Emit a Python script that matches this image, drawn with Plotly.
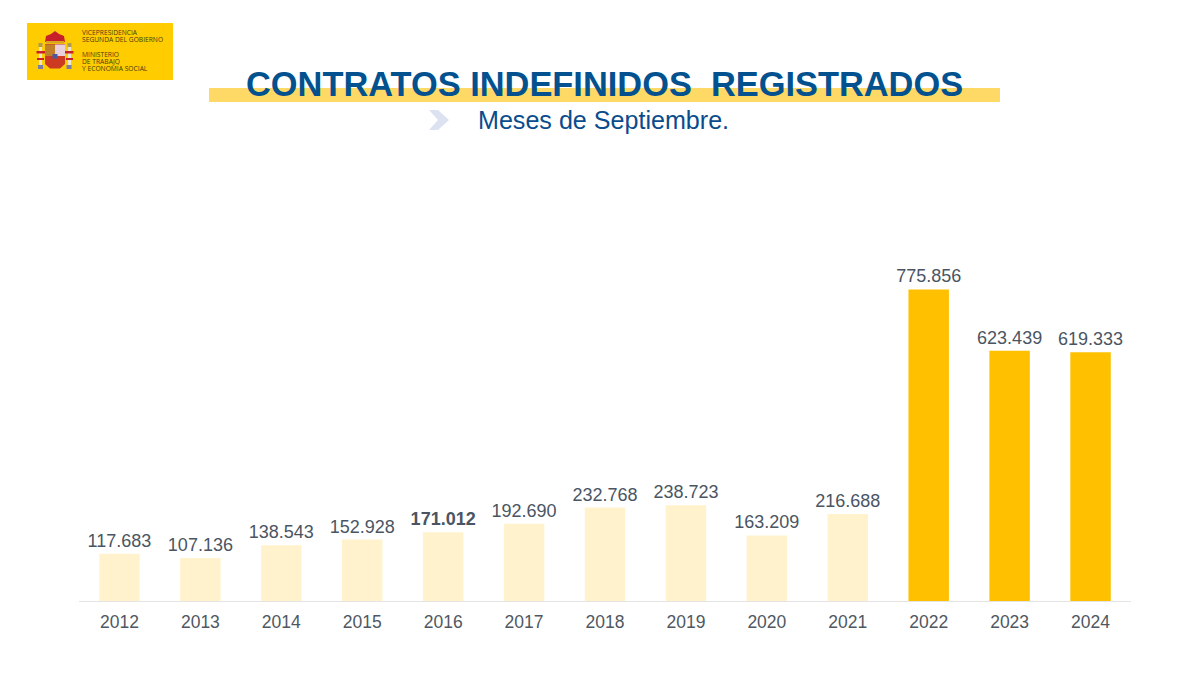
import plotly.graph_objects as go

years = ["2012","2013","2014","2015","2016","2017","2018","2019","2020","2021","2022","2023","2024"]
contracts = [117683,107136,138543,152928,171012,192690,232768,238723,163209,216688,775856,623439,619333]
bar_colors = ["#FFF2CC"]*10 + ["#FFC000"]*3
label_templates = ["%{y:,d}"]*13
label_templates[4] = "<b>%{y:,d}</b>"
title_text = "CONTRATOS INDEFINIDOS&#160;&#160;REGISTRADOS"
subtitle_text = "Meses de Septiembre."
logo_lines = [("VICEPRESIDENCIA",32.5),("SEGUNDA DEL GOBIERNO",40),("MINISTERIO",54.5),("DE TRABAJO",61.5),("Y ECONOMÍA SOCIAL",68.5)]

W, H = 1200, 675
def px(x): return x / W
def py(y): return 1 - y / H

def rect(x0, y0, x1, y1, color):
    return dict(type="rect", xref="paper", yref="paper", x0=px(x0), x1=px(x1),
                y0=py(y1), y1=py(y0), fillcolor=color, line_width=0, layer="below")

def poly(points, color):
    d = "M " + " L ".join(f"{px(a):.5f},{py(b):.5f}" for a, b in points) + " Z"
    return dict(type="path", xref="paper", yref="paper", path=d, fillcolor=color, line_width=0, layer="below")

shapes = [
    rect(27, 23, 173, 80, "#FFCC00"),
    rect(209, 88, 1000, 102, "#FFD966"),
    poly([(429,110),(438,110),(449,120),(438,130),(429,130),(438,120)], "#DDE2F3"),
    # emblem: pillars, ribbons, crown, shield
    rect(38.5, 43, 42.5, 47, "#B09A50"),
    rect(67.5, 43, 71.5, 47, "#B09A50"),
    rect(39, 47, 42, 65, "#E8E4D8"),
    rect(68, 47, 71, 65, "#E8E4D8"),
    rect(38, 65, 43, 69, "#7C7CA0"),
    rect(66.5, 65, 71.5, 69, "#7C7CA0"),
    rect(36.5, 51, 45, 53.5, "#C8202A"),
    rect(65, 51, 73.5, 53.5, "#C8202A"),
    rect(37, 58, 44, 60, "#C8202A"),
    rect(66, 58, 73, 60, "#C8202A"),
    poly([(45,42),(46,36),(51,34),(55,31),(59,34),(64,36),(65,42)], "#C8202A"),
    rect(46, 41, 64, 43.5, "#D9A520"),
    poly([(45,44),(65,44),(65,64),(60,68.5),(50,68.5),(45,64)], "#CC3A22"),
    rect(55, 44.5, 65, 56, "#E8D0DC"),
    rect(45, 44.5, 55, 56, "#C0802A"),
    rect(52.5, 54, 57.5, 58.5, "#4A5AA0"),
]

annotations = [
    dict(text=f"<b>{title_text}</b>", x=px(604.5), y=py(84), xref="paper", yref="paper", showarrow=False,
         xanchor="center", yanchor="middle", font=dict(family="Liberation Sans", size=34.4, color="#03528F")),
    dict(text=subtitle_text, x=px(476), y=py(120), xref="paper", yref="paper", showarrow=False,
         xanchor="left", yanchor="middle", font=dict(family="Liberation Sans", size=25.1, color="#0A4C8C")),
]
for line, y in logo_lines:
    annotations.append(dict(text=line, x=px(79.5), y=py(y), xref="paper", yref="paper", showarrow=False,
                            xanchor="left", yanchor="middle",
                            font=dict(family="Open Sans", size=6.7, color="#4A3A10")))

fig = go.Figure(go.Bar(
    x=years, y=contracts, width=0.5, marker=dict(color=bar_colors, line_width=0),
    texttemplate=label_templates, textposition="outside", cliponaxis=False, constraintext="none",
    textfont=dict(family="Liberation Sans", size=18, color="#4A5563"), hoverinfo="skip",
))
fig.update_layout(
    width=W, height=H, margin=dict(l=0, r=0, t=0, b=0), paper_bgcolor="white", plot_bgcolor="white",
    separators=",.", showlegend=False, shapes=shapes, annotations=annotations,
    xaxis=dict(domain=[px(79), px(1131)], type="category", showgrid=False, ticks="", showline=True,
               linecolor="#E4E4E4", linewidth=1, ticklabelstandoff=5,
               tickfont=dict(family="Liberation Sans", size=17.5, color="#4F5862")),
    yaxis=dict(domain=[py(601), py(199.5)], range=[0, 1000000], visible=False),
)
fig.write_html("out.html", config=dict(displayModeBar=False), post_script="document.body.style.margin='0';")
